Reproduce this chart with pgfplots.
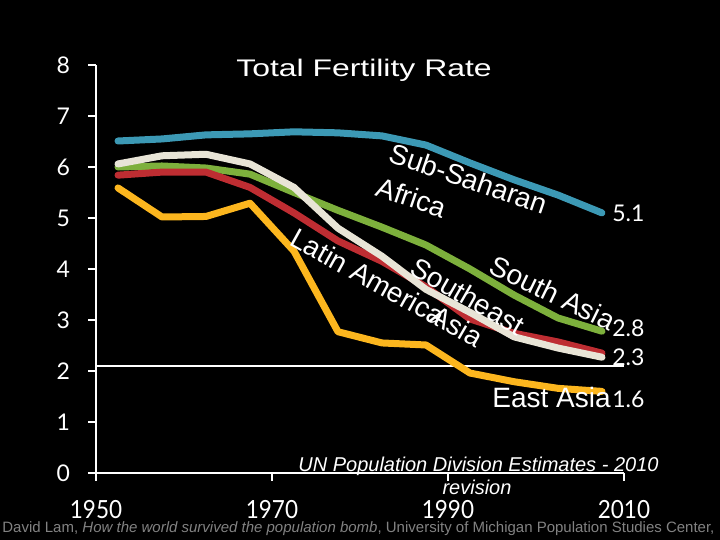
\documentclass[border=0pt]{standalone}
\usepackage{pgfplots}
\pgfplotsset{compat=1.18}
\usepackage{fontspec}
\setmainfont{Liberation Sans}
\newfontfamily\tickfont{Lato}
\definecolor{ssa}{RGB}{60,153,181}
\definecolor{sa}{RGB}{125,176,60}
\definecolor{la}{RGB}{190,45,50}
\definecolor{sea}{RGB}{232,228,214}
\definecolor{ea}{RGB}{252,182,30}
\definecolor{foot}{RGB}{130,130,130}
\begin{document}
\begin{tikzpicture}[x=0.5pt,y=0.5pt]
\fill[black] (0,0) rectangle (720,540);
\useasboundingbox (0,0) rectangle (720,540);
\begin{axis}[
  at={(48pt,33.5pt)}, anchor=south west, scale only axis,
  width=264pt, height=204pt,
  xmin=1950, xmax=2010, ymin=0, ymax=8,
  axis x line=bottom, axis y line=left,
  axis line style={white, line width=1pt, -},
  x axis line style={shorten <=-4pt},
  xtick={1950,1970,1990,2010}, ytick={0,1,...,8},
  tick align=outside, major tick length=4pt,
  tick style={white, line width=1pt},
  xticklabel style={white, font=\tickfont\fontsize{12.5}{13}\selectfont, yshift=-6pt, xscale=0.9},
  yticklabel style={white, font=\tickfont\fontsize{11.5}{12}\selectfont, xshift=-5.5pt},
  /pgf/number format/assume math mode=true,
  /pgf/number format/1000 sep={},
  clip=false,
]
\addplot[white, line width=1pt] coordinates {(1950,2.1) (2010,2.1)};
\addplot[ssa, line width=3.5pt, line cap=round, line join=round] coordinates {
(1952.5,6.51) (1957.5,6.55) (1962.5,6.63) (1967.5,6.65) (1972.5,6.69) (1977.5,6.67)
(1982.5,6.61) (1987.5,6.43) (1992.5,6.08) (1997.5,5.75) (2002.5,5.45) (2007.5,5.10)};
\addplot[sa, line width=3.5pt, line cap=round, line join=round] coordinates {
(1952.5,6.00) (1957.5,6.02) (1962.5,5.98) (1967.5,5.86) (1972.5,5.50) (1977.5,5.15)
(1982.5,4.82) (1987.5,4.47) (1992.5,4.00) (1997.5,3.49) (2002.5,3.04) (2007.5,2.78)};
\addplot[la, line width=3.5pt, line cap=round, line join=round] coordinates {
(1952.5,5.84) (1957.5,5.90) (1962.5,5.90) (1967.5,5.60) (1972.5,5.10) (1977.5,4.55)
(1982.5,4.15) (1987.5,3.65) (1992.5,3.02) (1997.5,2.74) (2002.5,2.57) (2007.5,2.35)};
\addplot[sea, line width=3.5pt, line cap=round, line join=round] coordinates {
(1952.5,6.06) (1957.5,6.22) (1962.5,6.25) (1967.5,6.06) (1972.5,5.60) (1977.5,4.80)
(1982.5,4.25) (1987.5,3.60) (1992.5,3.15) (1997.5,2.67) (2002.5,2.45) (2007.5,2.27)};
\addplot[ea, line width=3.5pt, line cap=round, line join=round] coordinates {
(1952.5,5.59) (1957.5,5.02) (1962.5,5.03) (1967.5,5.29) (1972.5,4.35) (1977.5,2.77)
(1982.5,2.55) (1987.5,2.51) (1992.5,1.96) (1997.5,1.79) (2002.5,1.66) (2007.5,1.60)};
\end{axis}
% title
\node[white, font=\fontsize{12}{14}\selectfont, xscale=1.33, anchor=base] at (364,463) {Total Fertility Rate};
% region labels
\begin{scope}[every node/.style={white, font=\fontsize{14}{16}\selectfont, anchor=base west, inner sep=0pt}]
\node[rotate=-19] at (387,379) {Sub-Saharan};
\node[rotate=-19] at (374,345) {Africa};
\node[rotate=-29] at (288,296) {Latin America};
\node[rotate=-30] at (408,267) {Southeast};
\node[rotate=-30] at (428,219) {Asia};
\node[rotate=-26] at (487,268) {South Asia};
\node at (492,132) {East Asia};
\end{scope}
\begin{scope}[every node/.style={white, font=\tickfont\fontsize{11.5}{12}\selectfont, anchor=base west, inner sep=0pt}]
\node at (612,318) {5.1};
\node at (612,203) {2.8};
\node at (612,174) {2.3};
\node at (612,132) {1.6};
\end{scope}
\node[white, font=\fontsize{10}{12}\selectfont\itshape, anchor=base west, inner sep=0pt] at (298,68) {UN Population Division Estimates - 2010};
\node[white, font=\fontsize{10}{12}\selectfont\itshape, anchor=base, inner sep=0pt] at (477,45) {revision};
\node[foot, font=\fontsize{7.5}{8}\selectfont, anchor=base west, inner sep=0pt] at (2,7) {David Lam, \textit{How the world survived the population bomb}, University of Michigan Population Studies Center,};
\end{tikzpicture}
\end{document}
